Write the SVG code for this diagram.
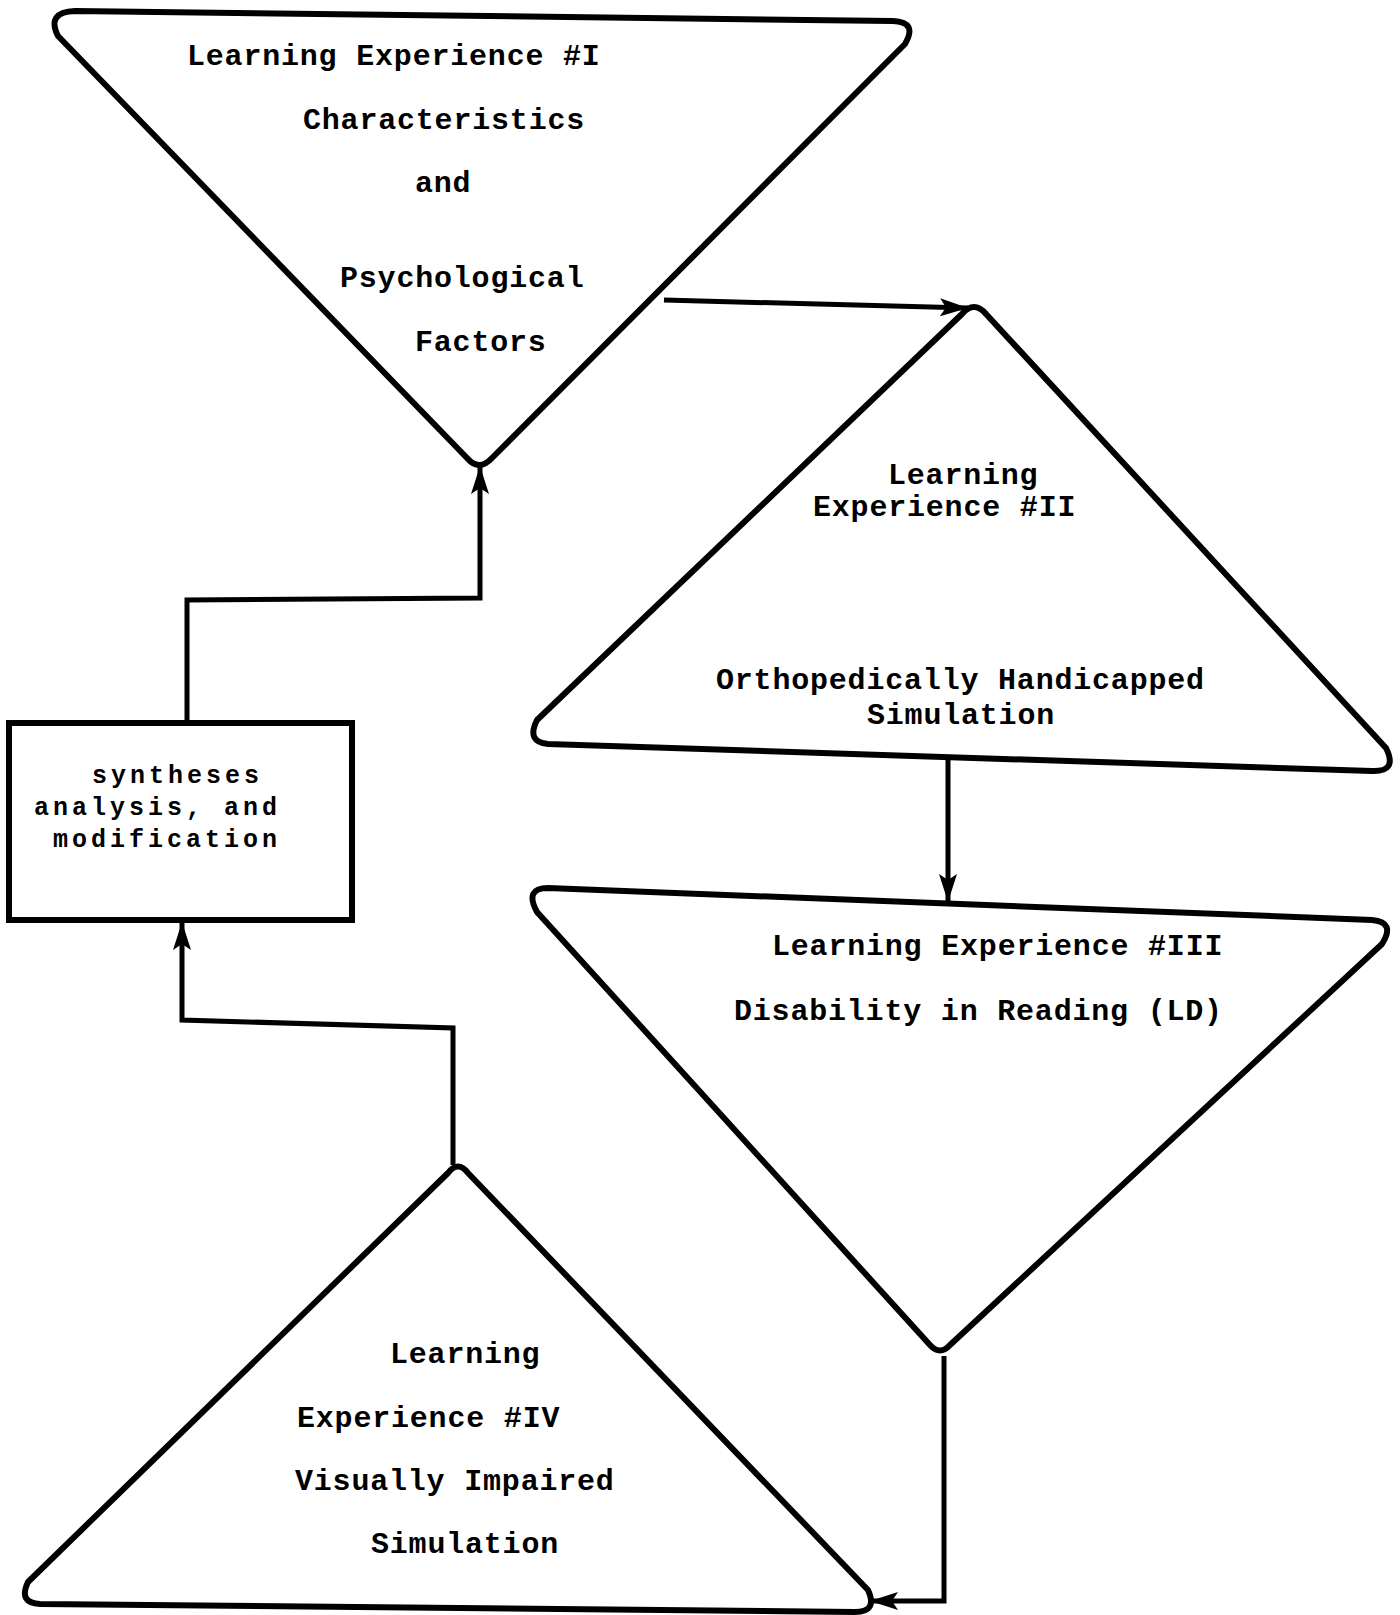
<svg xmlns="http://www.w3.org/2000/svg" width="1400" height="1615" viewBox="0 0 1400 1615">
<defs>
<style>
.shape{fill:none;stroke:#000;stroke-width:6;stroke-linejoin:round;stroke-linecap:round}
.conn{fill:none;stroke:#000;stroke-width:5;stroke-linejoin:miter}
.t{font-family:"Liberation Mono","DejaVu Sans Mono",monospace;font-weight:bold;font-size:30px;letter-spacing:0.8px;fill:#000}
.b{font-family:"Liberation Mono","DejaVu Sans Mono",monospace;font-weight:bold;font-size:25px;letter-spacing:4px;fill:#000}
</style>
<marker id="arr" markerUnits="userSpaceOnUse" markerWidth="32" markerHeight="20" refX="28" refY="9" orient="auto">
<path d="M0,0 L28,9 L0,18 L6,9 Z" fill="#000"/>
</marker>
</defs>
<rect width="1400" height="1615" fill="#fff"/>
<g id="le1">
<path class="shape" d="M75,11 L893,21 Q918,22 905,44 L492,458 Q479,472 467,458 L58,36 Q46,12 75,11 Z"/>
<text class="t" x="187" y="65">Learning Experience #I</text>
<text class="t" x="303" y="129">Characteristics</text>
<text class="t" x="415" y="192">and</text>
<text class="t" x="340" y="287">Psychological</text>
<text class="t" x="415" y="351">Factors</text>
</g>
<g id="le2">
<path class="shape" d="M962,314 Q974,300 986,314 L1386,748 Q1398,772 1372,771 L548,744 Q526,742 537,720 Z"/>
<text class="t" x="888" y="484">Learning</text>
<text class="t" x="813" y="516">Experience #II</text>
<text class="t" x="716" y="689">Orthopedically Handicapped</text>
<text class="t" x="867" y="724">Simulation</text>
</g>
<g id="le3">
<path class="shape" d="M548,888 L1372,920 Q1396,922 1382,944 L950,1345 Q940,1356 930,1345 L537,912 Q524,888 548,888 Z"/>
<text class="t" x="772" y="955">Learning Experience #III</text>
<text class="t" x="734" y="1020">Disability in Reading (LD)</text>
</g>
<g id="le4">
<path class="shape" d="M448,1173 Q458,1160 468,1173 L868,1590 Q878,1612 855,1612 L40,1604 Q18,1603 28,1582 Z"/>
<text class="t" x="390" y="1363">Learning</text>
<text class="t" x="297" y="1427">Experience #IV</text>
<text class="t" x="295" y="1490">Visually Impaired</text>
<text class="t" x="371" y="1553">Simulation</text>
</g>
<g id="box">
<rect class="shape" x="9" y="723" width="343" height="197" style="stroke-linejoin:miter"/>
<text class="b" x="92" y="783">syntheses</text>
<text class="b" x="34" y="815">analysis, and</text>
<text class="b" x="53" y="847">modification</text>
</g>
<g id="connectors">
<path class="conn" d="M664,300 L968,308" marker-end="url(#arr)"/>
<path class="conn" d="M948,757 L948,902" marker-end="url(#arr)"/>
<path class="conn" d="M944,1356 L944,1601 L870,1601" marker-end="url(#arr)"/>
<path class="conn" d="M453,1165 L453,1028 L182,1020 L182,922" marker-end="url(#arr)"/>
<path class="conn" d="M187,723 L187,600 L480,598 L480,466" marker-end="url(#arr)"/>
</g>
</svg>
